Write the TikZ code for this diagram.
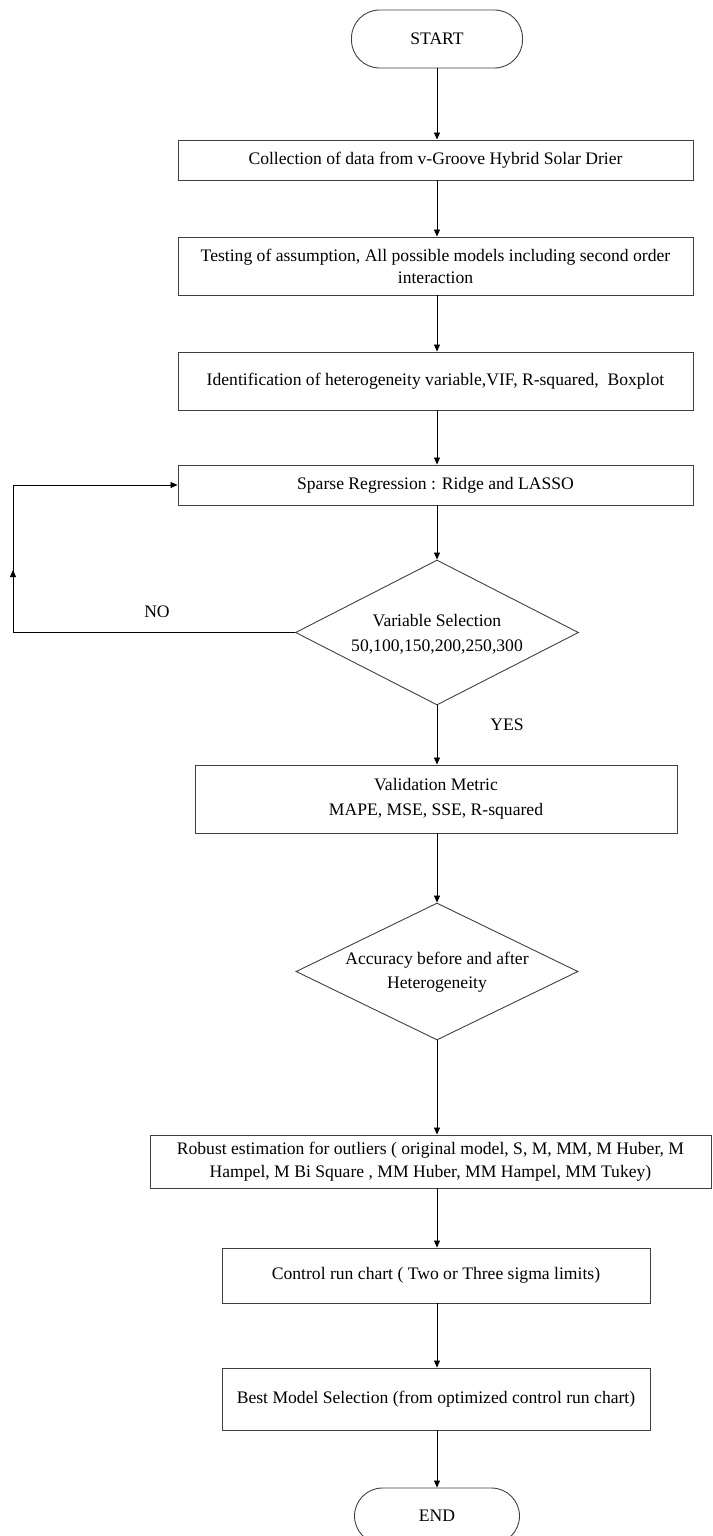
\documentclass[tikz,border=0pt]{standalone}
\usepackage{fontspec}
\setmainfont{Liberation Serif}
\usetikzlibrary{shapes.geometric,arrows.meta}
\begin{document}
\begin{tikzpicture}[x=1pt,y=-1pt,
  every node/.style={font=\fontsize{17.6}{22}\selectfont, text=black},
  box/.style={draw=black!75, line width=0.9pt, rectangle, inner sep=0pt, align=center},
  term/.style={draw=black!75, line width=0.9pt, rectangle, rounded corners=28pt, inner sep=0pt},
  dec/.style={draw=black!75, line width=0.9pt, diamond, inner sep=0pt},
  dtext/.style={align=center, inner sep=0pt, font=\fontsize{17.6}{24.5}\selectfont},
  arr/.style={line width=0.8pt, draw=black, -{Triangle[length=7pt,width=6pt]}},
  lbl/.style={inner sep=0pt}]
\useasboundingbox (0,0) rectangle (712,1536);
\clip (0,0) rectangle (712,1536);
\node[term, minimum width=171pt, minimum height=58pt] (start) at (437,39) {START};
\node[box, minimum width=515pt, minimum height=40pt] (b1) at (435.5,160) {Collection of data from v-Groove Hybrid Solar Drier};
\node[box, minimum width=515pt, minimum height=58pt] (b2) at (435.5,266) {Testing of assumption, All possible models including second order\\interaction};
\node[box, minimum width=515pt, minimum height=58pt] (b3) at (435.5,381) {Identification of heterogeneity variable,VIF, R-squared,\ \ Boxplot};
\node[box, minimum width=515pt, minimum height=40pt] (b4) at (435.5,485) {Sparse Regression : Ridge and LASSO};
\node[dec, minimum width=283pt, minimum height=145pt] (d1) at (437,632.5) {};
\node[dtext] (d1t) at (437,634) {Variable Selection\\50,100,150,200,250,300};
\node[box, minimum width=482pt, minimum height=68pt, font=\fontsize{17.6}{24.5}\selectfont] (b5) at (436,799) {Validation Metric\\MAPE, MSE, SSE, R-squared};
\node[dec, minimum width=282pt, minimum height=137pt] (d2) at (437,971.5) {};
\node[dtext] (d2t) at (437,972) {Accuracy before and after\\Heterogeneity};
\node[box, minimum width=561pt, minimum height=53pt, font=\fontsize{17.6}{23}\selectfont] (b6) at (430.5,1161.5) {Robust estimation for outliers ( original model, S, M, MM, M Huber, M\\Hampel, M Bi Square , MM Huber, MM Hampel, MM Tukey)};
\node[box, minimum width=428pt, minimum height=55pt] (b7) at (436,1275.5) {Control run chart ( Two or Three sigma limits)};
\node[box, minimum width=428pt, minimum height=62pt] (b8) at (436,1399) {Best Model Selection (from optimized control run chart)};
\node[term, minimum width=165pt, minimum height=56pt] (end) at (437,1516) {END};
\node[lbl] (no) at (157,612) {NO};
\node[lbl] (yes) at (507,725) {YES};
\coordinate (l1) at (13,632.5);
\coordinate (l2) at (13,485);
\coordinate (lm) at (13,570);
\draw[arr] (start.south) -- (start.south |- b1.north);
\draw[arr] (start.south |- b1.south) -- (start.south |- b2.north);
\draw[arr] (start.south |- b2.south) -- (start.south |- b3.north);
\draw[arr] (start.south |- b3.south) -- (start.south |- b4.north);
\draw[arr] (start.south |- b4.south) -- (d1.north);
\draw[arr] (d1.south) -- (d1.south |- b5.north);
\draw[arr] (d1.south |- b5.south) -- (d2.north);
\draw[arr] (d2.south) -- (d2.south |- b6.north);
\draw[arr] (d2.south |- b6.south) -- (d2.south |- b7.north);
\draw[arr] (d2.south |- b7.south) -- (d2.south |- b8.north);
\draw[arr] (d2.south |- b8.south) -- (end.north);
\draw[line width=0.8pt] (d1.west) -- (l1) -- (l2);
\draw[arr] (l2) -- (b4.west);
\draw[arr] (l1) -- (lm);
\end{tikzpicture}
\end{document}
